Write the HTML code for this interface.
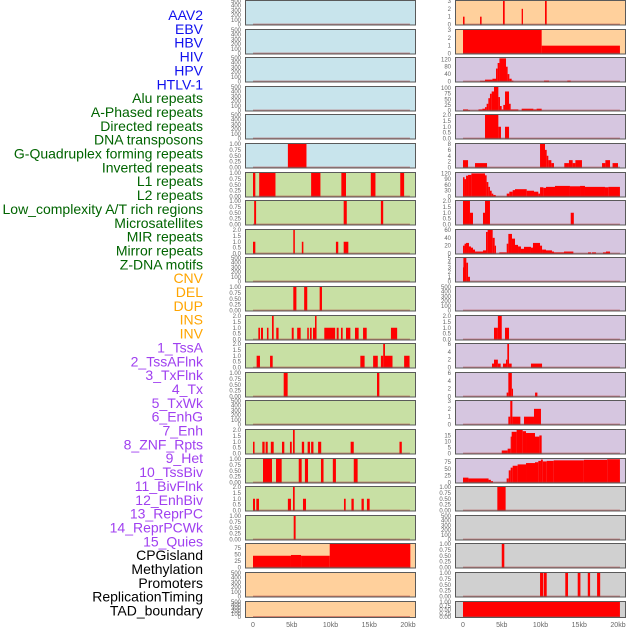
<!DOCTYPE html>
<html><head><meta charset="utf-8">
<style>
html,body{margin:0;padding:0;background:#fff;width:630px;height:630px;overflow:hidden}
svg{display:block}
.lab{font-family:"Liberation Sans",sans-serif;font-size:14px}
.tk{font-family:"Liberation Sans",sans-serif;font-size:6px;fill:#666}
.xt{font-family:"Liberation Sans",sans-serif;font-size:7px;fill:#666}
</style></head>
<body>
<svg id="chart" width="630" height="630"></svg>
<script>
const trackNames = ["AAV2","EBV","HBV","HIV","HPV","HTLV-1","Alu repeats","A-Phased repeats","Directed repeats","DNA transposons","G-Quadruplex forming repeats","Inverted repeats","L1 repeats","L2 repeats","Low_complexity A/T rich regions","Microsatellites","MIR repeats","Mirror repeats","Z-DNA motifs","CNV","DEL","DUP","INS","INV","1_TssA","2_TssAFlnk","3_TxFlnk","4_Tx","5_TxWk","6_EnhG","7_Enh","8_ZNF_Rpts","9_Het","10_TssBiv","11_BivFlnk","12_EnhBiv","13_ReprPC","14_ReprPCWk","15_Quies","CPGisland","Methylation","Promoters","ReplicationTiming","TAD_boundary"];
const trackColors = ["#1010ee","#1010ee","#1010ee","#1010ee","#1010ee","#1010ee","#006400","#006400","#006400","#006400","#006400","#006400","#006400","#006400","#006400","#006400","#006400","#006400","#006400","#ffa500","#ffa500","#ffa500","#ffa500","#ffa500","#a040f0","#a040f0","#a040f0","#a040f0","#a040f0","#a040f0","#a040f0","#a040f0","#a040f0","#a040f0","#a040f0","#a040f0","#a040f0","#a040f0","#a040f0","#000","#000","#000","#000","#000"];
const xTickValues = [0,5,10,15,20];
const xTickLabels = ["0","5kb","10kb","15kb","20kb"];

const leftBg = ["#c8e4ec","#c8e4ec","#c8e4ec","#c8e4ec","#c8e4ec","#c8e4ec","#c8e0a4","#c8e0a4","#c8e0a4","#c8e0a4","#c8e0a4","#c8e0a4","#c8e0a4","#c8e0a4","#c8e0a4","#c8e0a4","#c8e0a4","#c8e0a4","#c8e0a4","#ffd09c","#ffd09c","#ffd09c"];
const rightBg = ["#ffd09c","#ffd09c","#d6c6e0","#d6c6e0","#d6c6e0","#d6c6e0","#d6c6e0","#d6c6e0","#d6c6e0","#d6c6e0","#d6c6e0","#d6c6e0","#d6c6e0","#d6c6e0","#d6c6e0","#d6c6e0","#d6c6e0","#d0d0d0","#d0d0d0","#d0d0d0","#d0d0d0","#d0d0d0"];

const T500 = [0,100,200,300,400,500];
const T1 = [0,0.25,0.5,0.75,1];
const T2 = [0,0.5,1,1.5,2];
const leftTicks = [T500,T500,T500,T500,T500,T1,T1,T1,T2,T500,T1,T2,T2,T1,T500,T2,T1,T2,T1,[0,25,50,75],T500,T500];
const leftYmax = [500,500,500,500,500,1,1,1,2,500,1,2,2,1,500,2,1,2,1,90,500,500];
const rightTicks = [[0,1,2,3],[0,1,2,3],[0,40,80,120],[0,25,50,75,100],T2,[0,2,4,6,8],[0,30,60,90,120],T2,[0,20,40,60],[0,1,2,3,4,5],T500,T2,[0,2,4,6],[0,2,4,6],[0,1,2,3],[0,5,10,15],[0,25,50,75],T1,T500,T1,T1,T1];
const rightYmax = [3,3,127,105,2,8,122,2,60,5,500,2,6,6,3,19.5,87,1,500,1,1,1];

const leftBars = [
 [],[],[],[],[],
 [[4.5,6.9,1]],
 [[0,0.3,1],[0.8,2.9,1],[7.5,8.7,1],[11.4,12.0,1],[15.2,15.8,1],[19.0,19.5,1]],
 [[0.15,0.4,1],[11.7,12.1,1],[16.5,16.8,1]],
 [[0,0.3,1],[5.2,5.4,2],[6.3,6.5,1],[10.7,11.0,1],[11.7,12.3,1]],
 [],
 [[5.2,5.6,1],[6.6,7.0,1],[8.6,8.9,1]],
 [[0.69,0.9,1],[1.03,1.29,1],[1.8,2.0,1],[2.45,2.67,2],[3.0,3.3,1],[5.0,5.25,1],[5.7,6.15,1],[7.0,7.2,1],[7.35,7.57,1],[7.74,8.0,1],[8.0,8.2,2],[9.2,10.6,1],[10.8,11.05,1],[11.35,11.57,1],[12.0,12.56,1],[13.16,13.63,1],[14.2,14.67,1],[17.8,18.6,1]],
 [[0.47,0.9,1],[2.2,2.54,1],[13.85,14.4,1],[15.5,16.1,1],[16.5,16.8,1],[16.8,17.03,2],[17.03,18.0,1],[19.5,20.2,1]],
 [[3.96,4.47,1],[16.0,16.3,1]],
 [],
 [[0,0.2,1],[1.2,1.5,1],[1.63,1.9,1],[2.3,2.67,1],[3.74,4.04,1],[4.77,5.0,1],[5.16,5.38,2],[6.3,6.6,1],[7.05,7.35,1],[7.5,7.8,1],[8.4,8.8,1],[12.6,13.0,1],[18.9,19.2,1]],
 [[1.29,2.45,1],[2.97,3.7,1],[5.9,6.28,1],[6.7,7.1,1],[8.77,9.1,1],[10.3,10.7,1],[13.0,13.5,1]],
 [[0,0.26,1],[0.43,0.77,1],[4.5,4.9,1],[5.16,5.38,2],[6.45,6.84,1],[11.74,11.96,1],[12.7,13.0,1],[14.0,14.3,1],[14.7,15.05,1]],
 [[5.25,5.5,1]],
 [[0,4.9,45],[4.9,6.2,48],[6.2,9.9,45],[9.9,20.3,90]],
 [],[]
];
const rightBars = [
 [[0,0.2,1],[2.2,2.4,1],[5.16,5.38,3],[7.57,7.74,2],[10.58,10.8,3]],
 [[0,10.15,3],[10.15,20.25,1]],
 [[2.2,2.84,4],[2.84,3.8,10],[3.8,4.26,15],[4.26,4.47,70],[4.47,4.7,100],[4.7,5.55,125],[5.55,5.76,80],[5.76,5.98,40],[5.98,6.28,15],[6.28,6.5,5],[10.45,11.1,5],[13.46,13.9,5]],
 [[0,0.65,5],[0.65,0.9,2],[2.0,2.5,5],[2.5,2.84,8],[2.84,3.05,15],[3.05,3.27,30],[3.27,3.48,55],[3.48,3.7,75],[3.7,4.0,85],[4.0,4.56,105],[4.56,4.77,60],[4.77,4.99,20],[4.99,5.2,5],[5.2,5.42,25],[5.42,5.94,85],[5.94,6.15,30],[6.15,7.14,5],[7.57,9.08,8],[9.08,9.5,5],[9.5,10.15,8]],
 [[2.84,4.56,2],[4.56,4.9,1],[5.42,5.94,1]],
 [[0,0.65,2.5],[1.55,3.1,1.5],[9.94,10.58,8],[10.58,10.8,6],[10.8,11.01,4],[11.01,11.4,2.5],[11.4,11.74,1.5],[13.07,13.67,1.5],[13.67,14.15,2.5],[14.15,14.5,1.5],[14.5,15.35,2.5],[17.94,18.37,1.5],[18.37,18.97,2.5],[19.3,20.0,1.5]],
 [[0,0.2,100],[0.2,0.39,90],[0.39,0.65,108],[0.65,1.08,112],[1.08,2.84,120],[2.84,3.05,110],[3.05,3.27,75],[3.27,3.48,50],[3.48,3.7,30],[3.7,3.91,15],[3.91,4.22,8],[5.64,5.98,15],[5.98,6.41,25],[6.41,6.71,33],[6.71,8.22,38],[8.22,9.16,30],[9.16,9.72,25],[9.72,9.94,15],[9.94,10.37,48],[10.37,10.71,45],[10.71,11.87,50],[11.87,13.8,55],[13.8,15.1,53],[15.1,15.74,55],[15.74,18.32,50],[18.32,18.75,48],[18.75,20.25,50]],
 [[0,0.9,2],[0.9,1.29,1],[2.58,2.84,1],[2.84,3.48,2],[13.9,14.3,1]],
 [[0,0.2,20],[0.2,0.39,25],[0.39,0.77,27],[0.77,1.03,18],[1.03,1.29,15],[1.29,1.55,10],[1.55,2.58,5],[2.58,2.97,8],[2.97,3.18,55],[3.18,3.83,60],[3.83,4.09,40],[4.09,4.26,20],[4.69,5.64,3],[5.64,5.85,25],[5.85,6.32,50],[6.32,6.71,38],[6.71,7.1,22],[7.1,7.48,18],[7.48,7.87,12],[7.87,8.77,17],[8.77,9.03,15],[9.03,9.94,27],[9.94,10.2,20],[10.2,10.71,10],[10.71,11.48,8],[11.48,11.74,5],[11.74,13.03,3],[13.03,14.24,5],[16.13,16.52,3],[16.65,17.16,3],[18.06,18.45,3],[18.45,18.97,5]],
 [[0,0.05,3],[0.05,0.43,5],[0.43,0.65,4],[0.65,0.9,1]],
 [],
 [[4.0,4.5,1],[4.5,5.0,2],[5.42,5.94,1]],
 [[3.74,4.0,1],[4.0,4.5,2],[4.5,4.86,1],[5.16,5.55,1],[5.55,5.72,2],[5.72,5.94,6],[5.94,6.28,1],[8.77,10.2,1]],
 [[5.63,5.85,1],[5.85,6.3,6],[6.3,6.41,2],[9.3,9.6,1]],
 [[5.85,6.1,1],[6.1,6.37,3],[6.37,7.4,1],[7.87,9.16,1],[9.16,10.06,2]],
 [[5.0,5.76,2.5],[5.76,6.15,4],[6.15,6.28,14],[6.28,6.92,18],[6.92,7.7,19.5],[7.7,8.13,18.5],[8.13,9.29,17],[9.29,9.85,14],[9.85,10.15,15]],
 [[0,0.7,18],[0.7,3.3,15],[3.3,3.6,10],[3.6,3.87,5],[5.63,5.9,15],[5.9,6.15,45],[6.15,6.41,55],[6.41,7.05,62],[7.05,8.13,67],[8.13,9.29,72],[9.29,9.72,75],[9.72,10.06,80],[10.06,10.3,85],[10.3,10.8,78],[10.8,11.7,80],[11.7,15.6,82],[15.6,18.6,84],[18.6,20.25,86]],
 [[4.43,5.5,1]],
 [],
 [[5.0,5.33,1]],
 [[9.94,10.37,1],[10.45,10.8,1],[13.2,13.55,1],[14.8,15.15,1],[16.1,16.4,1],[17.3,17.7,1]],
 [[0,20.25,1]]
];

const NS = "http://www.w3.org/2000/svg";
const svg = document.getElementById("chart");
function mk(tag, attrs, parent){ const e=document.createElementNS(NS,tag); for(const k in attrs) e.setAttribute(k,attrs[k]); (parent||svg).appendChild(e); return e; }
function fmt(ticks, v){
  const mx = ticks[ticks.length-1];
  if (mx===1) return v.toFixed(2);
  if (mx===2) return v.toFixed(1);
  return String(v);
}
const rowTop = i => Math.round(i*28.6);
const rowH = i => i===21 ? 17 : 25.5;
const KB = 7.75;

// labels
trackNames.forEach((n,i)=>{
  const t = mk("text",{x:203,y:15+i*13.85+5,"text-anchor":"end",class:"lab",fill:trackColors[i]});
  t.textContent = n;
  
  
});

function drawPanel(col, i, bg, ticks, ymax, bars){
  const x0 = col===0 ? 245 : 455, w = 171;
  const y0 = rowTop(i), h = rowH(i);
  const g = mk("g",{});
  
  
  mk("rect",{x:x0,y:y0,width:w,height:h,fill:bg},g);
  const xs = kb => x0 + 8 + kb*KB;
  const ys = v => (y0+h-1) - (v/ymax)*(h-2);
  bars.forEach(b=>{
    const r = mk("rect",{x:xs(b[0]),y:ys(b[2]),width:Math.max(1.2,xs(b[1])-xs(b[0])),height:(y0+h-1)-ys(b[2]),fill:"#ff0000"},g);
    
    
  });
  mk("line",{x1:xs(0),x2:xs(20.25),y1:y0+h-1.2,y2:y0+h-1.2,stroke:"#b04040","stroke-opacity":0.6,"stroke-width":1.4},g);
  mk("rect",{x:x0+0.5,y:y0+0.5,width:w-1,height:h-1,fill:"none",stroke:"#5a5a5a","stroke-width":1},g);
  ticks.forEach(v=>{
    const t = mk("text",{x:x0-4,y:ys(v)+2,"text-anchor":"end",class:"tk"},g);
    t.textContent = fmt(ticks,v);
    
    
  });
}
for(let i=0;i<22;i++){
  drawPanel(0,i,leftBg[i],leftTicks[i],leftYmax[i],leftBars[i]);
  drawPanel(1,i,rightBg[i],rightTicks[i],rightYmax[i],rightBars[i]);
}
[253,463].forEach(base=>{
  xTickValues.forEach((v,k)=>{
    const t = mk("text",{x:base+v*KB,y:627,"text-anchor":"middle",class:"xt"});
    t.textContent = xTickLabels[k];
    
    
  });
});
</script>
</body></html>
